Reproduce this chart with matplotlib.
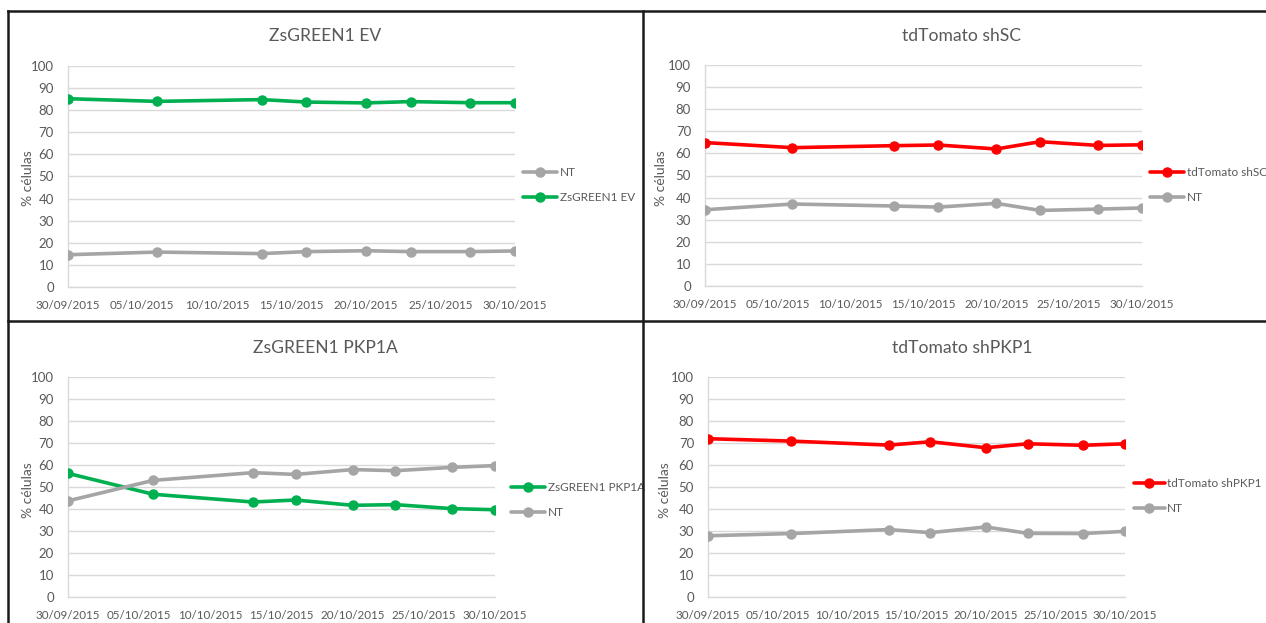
import datetime as dt
import matplotlib
matplotlib.use("Agg")
import matplotlib.pyplot as plt
import matplotlib.dates as mdates
from matplotlib.lines import Line2D

plt.rcParams['font.family'] = ['Lato', 'DejaVu Sans']

# ---- data ----
dates = ["30/09/2015", "06/10/2015", "13/10/2015", "16/10/2015",
         "20/10/2015", "23/10/2015", "27/10/2015", "30/10/2015"]
tick_dates = ["30/09/2015", "05/10/2015", "10/10/2015", "15/10/2015",
              "20/10/2015", "25/10/2015", "30/10/2015"]

p1_title = "ZsGREEN1 EV"
p1_nt = [14.7, 15.9, 15.2, 16.1, 16.5, 16.1, 16.1, 16.4]
p1_main = [85.1, 83.9, 84.7, 83.6, 83.2, 83.8, 83.3, 83.3]

p2_title = "tdTomato shSC"
p2_main = [64.9, 62.6, 63.5, 63.8, 62.0, 65.3, 63.6, 63.9]
p2_nt = [34.5, 37.1, 36.2, 35.7, 37.4, 34.2, 34.8, 35.3]

p3_title = "ZsGREEN1 PKP1A"
p3_main = [56.2, 46.7, 43.2, 44.1, 41.7, 42.0, 40.2, 39.7]
p3_nt = [43.7, 53.0, 56.5, 55.7, 57.9, 57.4, 58.9, 59.7]

p4_title = "tdTomato shPKP1"
p4_main = [71.9, 70.8, 69.0, 70.5, 67.8, 69.6, 68.9, 69.6]
p4_nt = [27.9, 28.9, 30.7, 29.3, 31.9, 29.0, 28.9, 29.9]

ylabel = "% células"
GREEN = "#00B050"
RED = "#FF0000"
GRAY = "#A5A5A5"
TXT = "#595959"

W, H = 1266, 623
fig = plt.figure(figsize=(W / 100, H / 100), dpi=100)

def parse(s):
    return dt.datetime.strptime(s, "%d/%m/%Y")

xd = [parse(d) for d in dates]
xt = [parse(d) for d in tick_dates]

def make_ax(l, r, t, b):
    return fig.add_axes([l / W, 1 - b / H, (r - l) / W, (b - t) / H])

def style(ax, title, title_xy, ylab_x, leg_xy, series, handlelen=2.9):
    for vals, col, lab in series:
        ax.plot(xd, vals, color=col, lw=2.6, marker='o', ms=6.5, label=lab,
                solid_capstyle='round', zorder=3)
    ax.set_xlim(xt[0], xt[-1])
    ax.set_ylim(0, 100)
    ax.set_yticks(range(0, 101, 10))
    ax.set_xticks(xt)
    ax.xaxis.set_major_formatter(mdates.DateFormatter("%d/%m/%Y"))
    ax.grid(axis='y', color="#D9D9D9", lw=1)
    ax.set_axisbelow(True)
    for s in ['top', 'right']:
        ax.spines[s].set_visible(False)
    for s in ['left', 'bottom']:
        ax.spines[s].set_color("#D9D9D9")
        ax.spines[s].set_linewidth(1)
    ax.tick_params(axis='both', length=0, colors=TXT)
    ax.tick_params(axis='y', pad=10, labelsize=9.5)
    ax.tick_params(axis='x', pad=9, labelsize=8.4)
    for lbl in ax.get_xticklabels() + ax.get_yticklabels():
        lbl.set_color(TXT)
    fig.text(title_xy[0] / W, 1 - title_xy[1] / H, title, ha='center', va='center',
             fontsize=12.6, color=TXT)
    fig.text(ylab_x / W, 1 - (title_xy[1] + 142) / H, ylabel, rotation=90,
             ha='center', va='center', fontsize=10, color=TXT)
    ax.legend(loc='center left', bbox_to_anchor=(leg_xy[0] / W, 1 - leg_xy[1] / H),
              bbox_transform=fig.transFigure, frameon=False, fontsize=8.5,
              labelcolor=TXT, handlelength=handlelen, handletextpad=0.2,
              labelspacing=1.15, borderpad=0, borderaxespad=0)

ax1 = make_ax(67.8, 515, 65.7, 287.3)
style(ax1, p1_title, (325, 36), 28, (523, 185),
      [(p1_nt, GRAY, "NT"), (p1_main, GREEN, p1_title)])

ax2 = make_ax(705, 1142, 65, 286)
style(ax2, p2_title, (962, 36), 661, (1150, 185),
      [(p2_main, RED, p2_title), (p2_nt, GRAY, "NT")])

ax3 = make_ax(67.8, 495, 376.7, 597.3)
style(ax3, p3_title, (325, 348), 28, (511, 500),
      [(p3_main, GREEN, p3_title), (p3_nt, GRAY, "NT")])

ax4 = make_ax(708, 1125, 376.7, 597.3)
style(ax4, p4_title, (962, 348), 665, (1134, 496),
      [(p4_main, RED, p4_title), (p4_nt, GRAY, "NT")], handlelen=2.6)

# table borders
def fline(x0, y0, x1, y1):
    fig.add_artist(Line2D([x0 / W, x1 / W], [1 - y0 / H, 1 - y1 / H],
                          transform=fig.transFigure, color="#1a1a1a", lw=1.8))

fline(8, 11, W, 11)
fline(8, 11, 8, H)
fline(643, 11, 643, H)
fline(8, 321, W, 321)

fig.savefig("out.png", dpi=100, facecolor="white")
